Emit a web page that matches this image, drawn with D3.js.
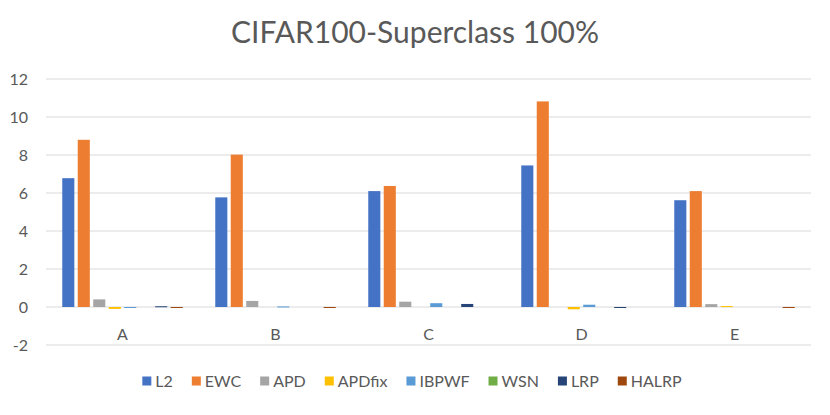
<!DOCTYPE html>
<html><head><meta charset="utf-8">
<script src="https://cdn.jsdelivr.net/npm/d3@7"></script>
<style>body{margin:0;background:#fff;} svg{display:block;font-family:Lato, "Open Sans", sans-serif;}</style>
</head><body>
<svg id="c" width="830" height="415"></svg>
<script>
const categories = ["A","B","C","D","E"];
const seriesNames = ["L2","EWC","APD","APDfix","IBPWF","WSN","LRP","HALRP"];
const colors = ["#4472C4","#ED7D31","#A5A5A5","#FFC000","#5B9BD5","#70AD47","#264478","#9E480E"];
const L2     = [6.78, 5.77, 6.10, 7.45, 5.62];
const EWC    = [8.80, 8.02, 6.37, 10.82, 6.10];
const APD    = [0.40, 0.32, 0.28, 0.00, 0.15];
const APDfix = [-0.10, 0.00, 0.00, -0.12, 0.05];
const IBPWF  = [-0.05, 0.03, 0.20, 0.12, 0.00];
const WSN    = [0.00, 0.00, 0.00, 0.00, 0.00];
const LRP    = [0.04, 0.00, 0.16, -0.04, 0.00];
const HALRP  = [-0.05, -0.03, 0.00, 0.00, -0.05];
const yTicks = [-2, 0, 2, 4, 6, 8, 10, 12];
const values = [L2, EWC, APD, APDfix, IBPWF, WSN, LRP, HALRP];

const svg = d3.select("#c");
const x0 = d3.scaleBand().domain(categories).range([46, 811]);
const x1 = d3.scaleBand().domain(seriesNames).range([0, x0.bandwidth()]).paddingInner(0.22).paddingOuter(1.05);
const y = d3.scaleLinear().domain([-2, 12]).range([345, 79]);

svg.append("g").selectAll("line").data(yTicks).join("line")
  .attr("x1", 46).attr("x2", 811)
  .attr("y1", d => y(d)).attr("y2", d => y(d))
  .attr("stroke", "#d9d9d9").attr("stroke-width", 1);

svg.append("g").selectAll("text").data(yTicks).join("text")
  .attr("x", 28).attr("y", d => y(d)).attr("dy", "0.35em")
  .attr("text-anchor", "end").attr("fill", "#595959").attr("font-size", 16)
  .text(d => d);

const g = svg.append("g");
categories.forEach((c, ci) => {
  seriesNames.forEach((s, si) => {
    const v = values[si][ci];
    if (v === 0) return;
    g.append("rect")
      .attr("x", x0(c) + x1(s))
      .attr("width", x1.bandwidth())
      .attr("y", y(Math.max(0, v)))
      .attr("height", Math.max(1, Math.abs(y(v) - y(0))))
      .attr("fill", colors[si]);
  });
});

svg.append("g").selectAll("text").data(categories).join("text")
  .attr("x", d => x0(d) + x0.bandwidth() / 2).attr("y", 340)
  .attr("text-anchor", "middle").attr("fill", "#595959").attr("font-size", 16)
  .text(d => d);

svg.append("text").attr("x", 415).attr("y", 43).attr("text-anchor", "middle")
  .attr("fill", "#595959").attr("font-size", 30).text("CIFAR100-Superclass 100%");

const leg = svg.append("g");
let lx = 0;
seriesNames.forEach((s, i) => {
  const it = leg.append("g").attr("transform", `translate(${lx},0)`);
  it.append("rect").attr("x", 0).attr("y", -4.5).attr("width", 9).attr("height", 9).attr("fill", colors[i]);
  const t = it.append("text").attr("x", 13).attr("y", 0).attr("dy", "0.35em")
    .attr("fill", "#595959").attr("font-size", 16).text(s);
  lx += 13 + t.node().getComputedTextLength() + 19;
});
lx -= 19;
leg.attr("transform", `translate(${412 - lx / 2},381)`);
</script>
</body></html>
